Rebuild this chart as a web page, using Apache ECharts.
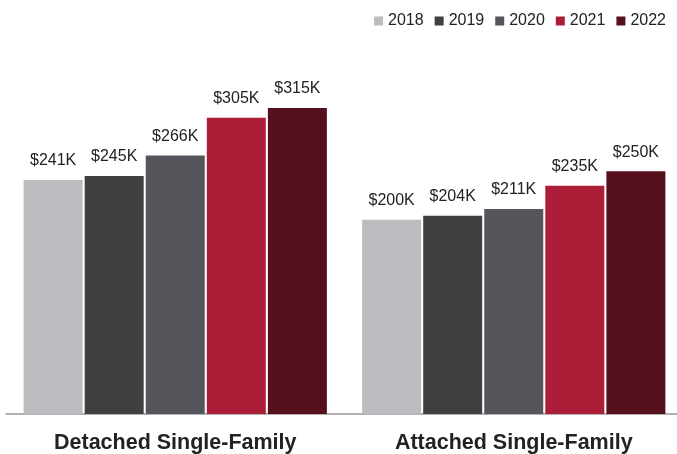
<!DOCTYPE html>
<html>
<head>
<meta charset="utf-8">
<script src="https://cdn.jsdelivr.net/npm/echarts@6/dist/echarts.min.js"></script>
<style>
  html, body { margin: 0; padding: 0; background: #fff; overflow: hidden; }
  #chart { width: 690px; height: 454px; }
</style>
</head>
<body>
<div id="chart"></div>
<script>
// Median home price by housing type, in thousands of dollars
const categories = ['Detached Single-Family', 'Attached Single-Family'];
const years = ['2018', '2019', '2020', '2021', '2022'];
const values2018 = [241, 200];
const values2019 = [245, 204];
const values2020 = [266, 211];
const values2021 = [305, 235];
const values2022 = [315, 250];
const seriesValues = [values2018, values2019, values2020, values2021, values2022];
const colors = ['#bbbcc0', '#404040', '#55565b', '#ac1e37', '#560f1c'];
const font = 'Liberation Sans, Arial, Helvetica, sans-serif';

const chart = echarts.init(document.getElementById('chart'));

const series = years.map((y, i) => ({
  name: y,
  type: 'bar',
  data: seriesValues[i],
  barWidth: 59,
  barGap: '3.5%',
  itemStyle: { color: colors[i] },
  label: {
    show: true,
    position: 'top',
    distance: 11,
    color: '#222',
    fontSize: 16,
    fontFamily: font,
    formatter: p => '$' + p.value + 'K'
  }
}));

chart.setOption({
  animation: false,
  color: colors,
  legend: {
    top: 8,
    right: 19,
    itemWidth: 9,
    itemHeight: 9,
    itemGap: 11,
    icon: 'rect',
    textStyle: { fontSize: 16, color: '#222', fontFamily: font },
    data: years
  },
  grid: { left: 6, top: 74, width: 677, bottom: 39, containLabel: false },
  xAxis: {
    type: 'category',
    data: categories,
    axisLine: { lineStyle: { color: '#999', width: 1.5 } },
    axisTick: { show: false },
    axisLabel: {
      margin: 18,
      fontSize: 21.5,
      fontWeight: 'bold',
      color: '#222',
      fontFamily: font
    }
  },
  yAxis: {
    type: 'value',
    min: 0,
    max: 350,
    show: false
  },
  series: series
});
</script>
</body>
</html>
